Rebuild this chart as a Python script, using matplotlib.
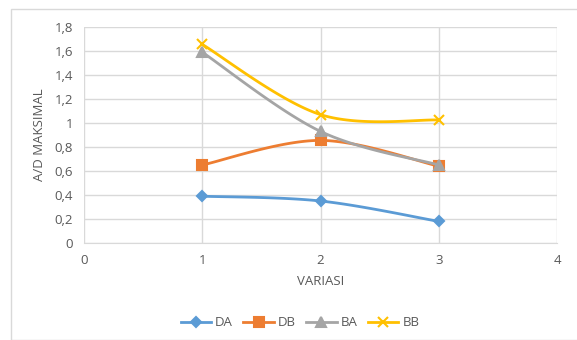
import matplotlib.pyplot as plt
import numpy as np
from matplotlib.patches import Rectangle

plt.rcParams['font.family'] = ['Open Sans', 'DejaVu Sans']

variasi = [1, 2, 3]
da = [0.39, 0.35, 0.18]
db = [0.65, 0.855, 0.64]
ba = [1.59, 0.93, 0.65]
bb = [1.655, 1.07, 1.025]


def smooth(x, y, n=40):
    # catmull-rom style smoothing like Excel "smoothed line"
    x = np.asarray(x, float)
    y = np.asarray(y, float)
    px = np.concatenate([[x[0]], x, [x[-1]]])
    py = np.concatenate([[y[0]], y, [y[-1]]])
    xs, ys = [], []
    t = np.linspace(0, 1, n)
    for i in range(1, len(px) - 2):
        p0, p1, p2, p3 = [np.array([px[j], py[j]]) for j in (i - 1, i, i + 1, i + 2)]
        c1 = p1 + (p2 - p0) / 6
        c2 = p2 - (p3 - p1) / 6
        pts = ((1 - t) ** 3)[:, None] * p1 + (3 * (1 - t) ** 2 * t)[:, None] * c1 \
            + (3 * (1 - t) * t ** 2)[:, None] * c2 + (t ** 3)[:, None] * p2
        xs.extend(pts[:, 0])
        ys.extend(pts[:, 1])
    return xs, ys


fig = plt.figure(figsize=(5.77, 3.4), dpi=100)
fig.patches.append(Rectangle((11 / 577, 0), 1, 1 - 9 / 340, transform=fig.transFigure,
                             fill=False, edgecolor='#d9d9d9', lw=1))
ax = fig.add_axes([84 / 577, 1 - 243 / 340, 473 / 577, 216 / 340])

series = [
    (da, 'DA', '#5b9bd5', 'D', 5.5),
    (db, 'DB', '#ed7d31', 's', 6.5),
    (ba, 'BA', '#a5a5a5', '^', 7),
    (bb, 'BB', '#ffc000', 'x', 7),
]
for vals, name, col, mk, ms in series:
    sx, sy = smooth(variasi, vals)
    ax.plot(sx, sy, color=col, lw=2, solid_capstyle='round')
    ax.plot(variasi, vals, ls='none', marker=mk, color=col, ms=ms, mew=1.5)
    ax.plot([], [], color=col, lw=2, marker=mk, ms=ms, mew=1.5, label=name)

ax.set_xlim(0, 4)
ax.set_ylim(0, 1.8)
ax.set_xticks([0, 1, 2, 3, 4])
ax.set_yticks(np.arange(0, 1.81, 0.2))
ax.set_yticklabels(['0', '0,2', '0,4', '0,6', '0,8', '1', '1,2', '1,4', '1,6', '1,8'])
ax.grid(True, color='#d9d9d9', lw=1)
ax.set_axisbelow(True)
for s in ['top', 'right', 'left']:
    ax.spines[s].set_visible(False)
ax.spines['bottom'].set_color('#d9d9d9')
ax.tick_params(length=0, colors='#595959', labelsize=9.5, pad=8)
ax.set_xlabel('VARIASI', color='#595959', fontsize=9.5, labelpad=6)
ax.set_ylabel('A/D MAKSIMAL', color='#595959', fontsize=9.5, labelpad=6)

fig.legend(loc='center', bbox_to_anchor=(0.52, 1 - 323 / 340), ncol=4, frameon=False,
           fontsize=9.5, labelcolor='#595959', handlelength=2.3, columnspacing=0.8,
           handletextpad=0.3)

fig.savefig('out.png')
